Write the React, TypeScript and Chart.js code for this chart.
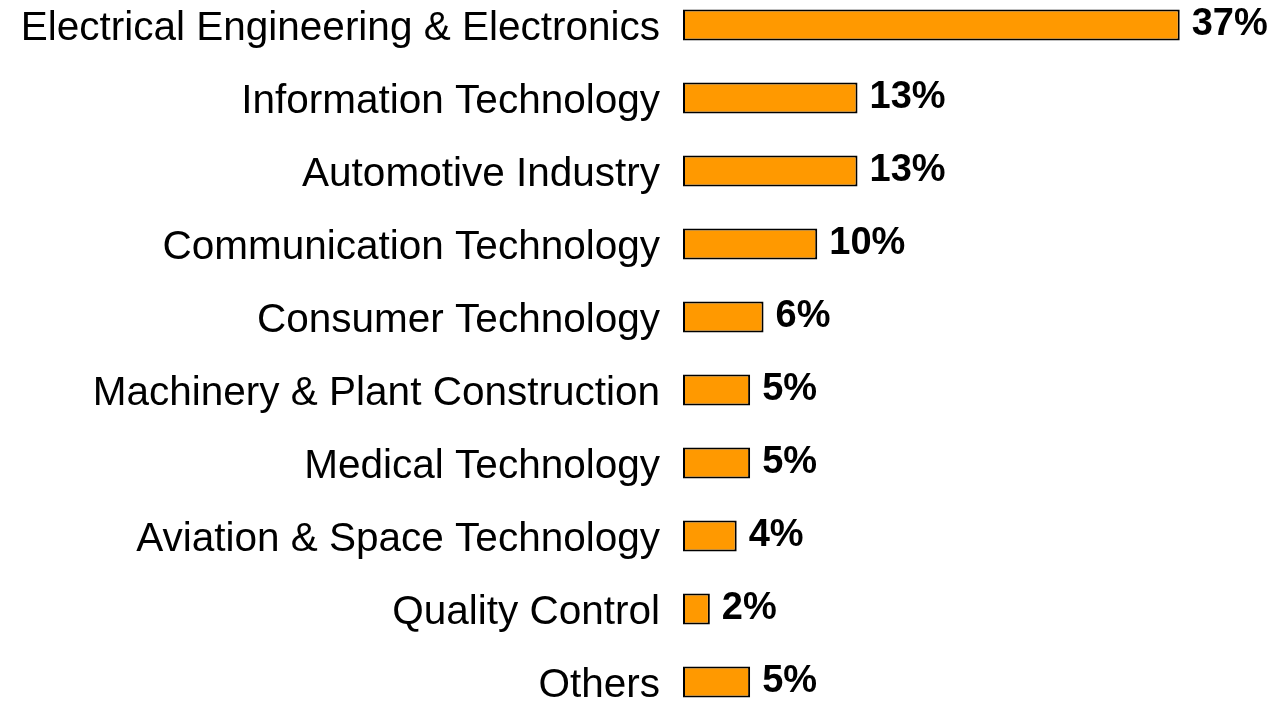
import React, { useEffect, useRef } from "react";
import { Chart, registerables } from "chart.js";

Chart.register(...registerables);

const categories = [
  "Electrical Engineering & Electronics",
  "Information Technology",
  "Automotive Industry",
  "Communication Technology",
  "Consumer Technology",
  "Machinery & Plant Construction",
  "Medical Technology",
  "Aviation & Space Technology",
  "Quality Control",
  "Others",
];
const shares = [37, 13, 13, 10, 6, 5, 5, 4, 2, 5];
const valueLabels = ["37%", "13%", "13%", "10%", "6%", "5%", "5%", "4%", "2%", "5%"];

const valueLabelPlugin = {
  id: "valueLabels",
  afterDatasetsDraw(chart: any) {
    const { ctx } = chart;
    const meta = chart.getDatasetMeta(0);
    ctx.save();
    ctx.font = "bold 38px 'Liberation Sans', Arial, sans-serif";
    ctx.fillStyle = "#000";
    ctx.textAlign = "left";
    ctx.textBaseline = "middle";
    meta.data.forEach((bar: any, i: number) => {
      ctx.fillText(valueLabels[i], bar.x + 12, bar.y);
    });
    ctx.restore();
  },
};

export default function App() {
  const ref = useRef<HTMLCanvasElement>(null);
  useEffect(() => {
    if (!ref.current) return;
    const chart = new Chart(ref.current, {
      type: "bar",
      data: {
        labels: categories,
        datasets: [
          {
            data: shares,
            backgroundColor: "#FF9900",
            borderColor: "#000000",
            borderWidth: 2,
            borderSkipped: false,
            barPercentage: 0.425,
            categoryPercentage: 1,
            clip: false as any,
          },
        ],
      },
      options: {
        indexAxis: "y",
        animation: false,
        responsive: true,
        maintainAspectRatio: false,
        layout: { padding: { top: 25, bottom: 26, left: 0, right: 61 } },
        plugins: { legend: { display: false }, tooltip: { enabled: false } },
        scales: {
          x: { display: false, min: 0, max: 40 },
          y: {
            offset: false,
            grid: { display: false, drawTicks: false },
            border: { display: false },
            ticks: {
              color: "#000",
              padding: 23,
              labelOffset: 4,
              font: { family: "'Liberation Sans', Arial, sans-serif", size: 40.5 },
            },
            afterFit: (scale: any) => {
              scale.width = 683;
              scale.paddingTop = 0;
              scale.paddingBottom = 0;
            },
          },
        },
      },
      plugins: [valueLabelPlugin],
    });
    return () => chart.destroy();
  }, []);
  return (
    <div style={{ position: "fixed", left: 0, top: 0, width: 1281, height: 708, background: "#fff" }}>
      <canvas ref={ref} />
    </div>
  );
}
